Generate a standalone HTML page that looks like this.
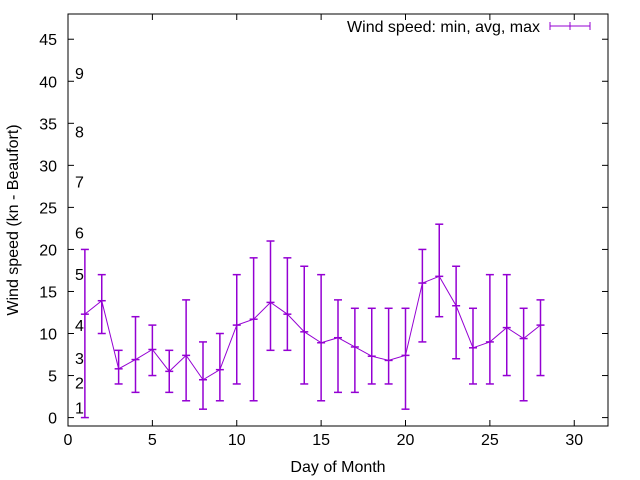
<!DOCTYPE html>
<html><head><meta charset="utf-8"><style>body{margin:0;background:#fff}svg{display:block;font-family:"Liberation Sans",sans-serif}</style></head>
<body>
<svg id="c" width="640" height="480"></svg>
<script>
const days=[1,2,3,4,5,6,7,8,9,10,11,12,13,14,15,16,17,18,19,20,21,22,23,24,25,26,27,28];
const avgV=[12.3,13.9,5.8,6.9,8.1,5.5,7.4,4.5,5.7,11,11.7,13.7,12.3,10.2,8.9,9.5,8.4,7.3,6.8,7.4,16,16.8,13.3,8.3,9,10.7,9.4,11];
const minV=[0,10,4,3,5,3,2,1,2,4,2,8,8,4,2,3,3,4,4,1,9,12,7,4,4,5,2,5];
const maxV=[20,17,8,12,11,8,14,9,10,17,19,21,19,18,17,14,13,13,13,13,20,23,18,13,17,17,13,14];
const xTicks=[0,5,10,15,20,25,30];
const yTicks=[0,5,10,15,20,25,30,35,40,45];
const bftLabels=["1","2","3","4","5","6","7","8","9"];
const bftVals=[1.2,4.2,7.1,11,17.1,22,28.1,34,41];
const L=68,R=608,T=14,B=426,X0=0,X1=32,Y0=-1,Y1=48;
const sx=v=>L+(v-X0)/(X1-X0)*(R-L);
const sy=v=>B-(v-Y0)/(Y1-Y0)*(B-T);
const svg=document.getElementById('c');const NS='http://www.w3.org/2000/svg';
function el(t,a,name,txt){const e=document.createElementNS(NS,t);for(const k in a)e.setAttribute(k,a[k]);


if(txt!==undefined)e.textContent=txt;svg.appendChild(e);return e;}
el('rect',{x:L,y:T,width:R-L,height:B-T,fill:'none',stroke:'#000','stroke-width':1},'plot-frame');
xTicks.forEach(v=>{const x=sx(v);
el('line',{x1:x,y1:B,x2:x,y2:B-6,stroke:'#000'},'x-tick');
el('line',{x1:x,y1:T,x2:x,y2:T+6,stroke:'#000'},'x-tick-top');
el('text',{x:x,y:B+19,'text-anchor':'middle','font-size':16},'x-tick-label',String(v));});
yTicks.forEach(v=>{const y=sy(v);
el('line',{x1:L,y1:y,x2:L+6,y2:y,stroke:'#000'},'y-tick');
el('line',{x1:R,y1:y,x2:R-6,y2:y,stroke:'#000'},'y-tick-right');
el('text',{x:L-11,y:y+6,'text-anchor':'end','font-size':16},'y-tick-label',String(v));});
bftLabels.forEach((s,i)=>el('text',{x:75,y:sy(bftVals[i])+6,'font-size':16},'beaufort-label',s));
el('text',{x:338,y:472,'text-anchor':'middle','font-size':16},'x-axis-title','Day of Month');
el('text',{x:18,y:220,'text-anchor':'middle','font-size':16,transform:'rotate(-90 18 220)'},'y-axis-title','Wind speed (kn - Beaufort)');
const col='#9400d3';
function bar(x,y1,y2,name){el('line',{x1:x,y1:y1,x2:x,y2:y2,stroke:col,'stroke-width':1.5},name);
el('line',{x1:x-4,y1:y1,x2:x+4,y2:y1,stroke:col,'stroke-width':1.5},name+'-cap');
el('line',{x1:x-4,y1:y2,x2:x+4,y2:y2,stroke:col,'stroke-width':1.5},name+'-cap');}
days.forEach((d,i)=>{bar(sx(d),sy(minV[i]),sy(maxV[i]),'error-bar');
el('line',{x1:sx(d)-4,y1:sy(avgV[i]),x2:sx(d)+4,y2:sy(avgV[i]),stroke:col,'stroke-width':1.5},'avg-point');});
el('polyline',{points:days.map((d,i)=>sx(d)+','+sy(avgV[i])).join(' '),fill:'none',stroke:col,'stroke-width':1},'avg-line');
el('text',{x:540,y:32,'text-anchor':'end','font-size':16},'legend-label','Wind speed: min, avg, max');
el('line',{x1:550,y1:26,x2:590,y2:26,stroke:col},'legend-line');
el('line',{x1:550,y1:22,x2:550,y2:30,stroke:col},'legend-cap');
el('line',{x1:590,y1:22,x2:590,y2:30,stroke:col},'legend-cap');
el('line',{x1:570,y1:22,x2:570,y2:30,stroke:col},'legend-mid');
</script>
</body></html>
